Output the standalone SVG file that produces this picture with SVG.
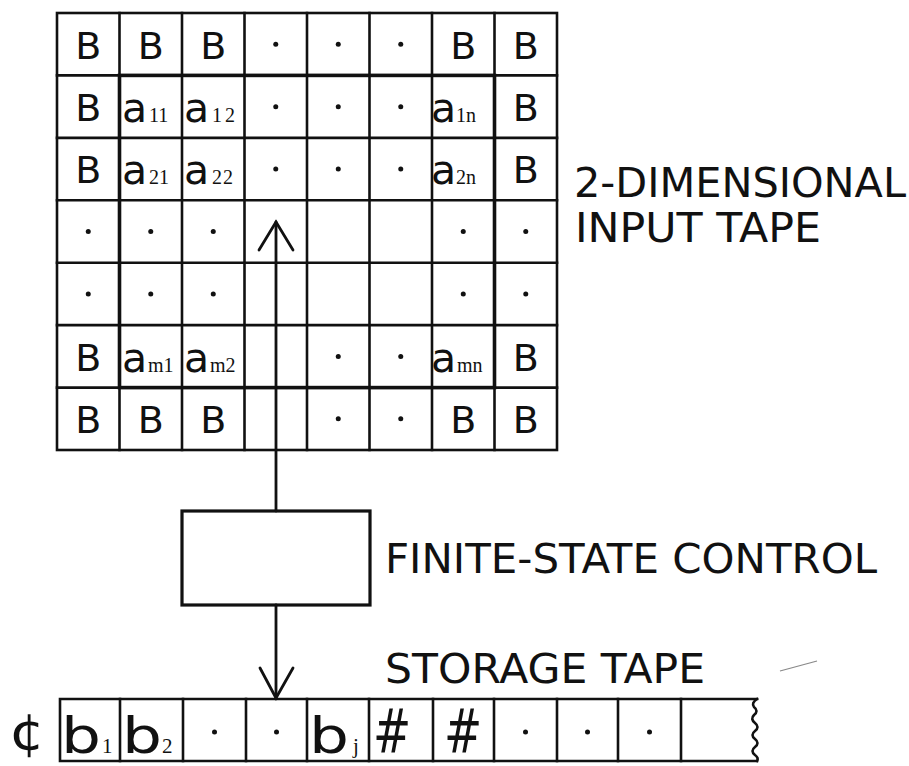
<svg xmlns="http://www.w3.org/2000/svg" width="909" height="766" viewBox="0 0 909 766">
<style>
  .ln { stroke: #111; stroke-width: 2.6; fill: none; stroke-linecap: square; }
  .thick { stroke: #111; stroke-width: 3.6; fill: none; }
  .box { stroke: #111; stroke-width: 3.2; fill: none; }
  .B { font-family: "DejaVu Sans", sans-serif; font-size: 38px; fill: #111; text-anchor: middle; }
  .a { font-family: "DejaVu Sans", sans-serif; font-size: 41px; fill: #111; }
  .sub { font-family: "Liberation Serif", serif; font-size: 20px; fill: #111; }
  .b { font-family: "DejaVu Sans", sans-serif; font-size: 50px; fill: #111; }
  .bsub { font-family: "Liberation Serif", serif; font-size: 21px; fill: #111; }
  .hash { font-family: "DejaVu Sans", sans-serif; font-size: 48px; fill: #111; text-anchor: middle; }
  .lbl { font-family: "DejaVu Sans", sans-serif; font-size: 40px; fill: #111; }
  .dot { fill: #111; }
  .conn { stroke: #111; stroke-width: 2.8; fill: none; stroke-linecap: round; stroke-linejoin: miter; }
</style>
<rect width="909" height="766" fill="#fff"/>

<g id="input-tape">
  <rect class="ln" x="57" y="13" width="500" height="437"/>
  <g class="ln">
    <line x1="119.5" y1="13" x2="119.5" y2="450"/>
    <line x1="182" y1="13" x2="182" y2="450"/>
    <line x1="244.5" y1="13" x2="244.5" y2="450"/>
    <line x1="307" y1="13" x2="307" y2="450"/>
    <line x1="369.5" y1="13" x2="369.5" y2="450"/>
    <line x1="432" y1="13" x2="432" y2="450"/>
    <line x1="494.5" y1="13" x2="494.5" y2="450"/>
    <line x1="57" y1="75.4" x2="557" y2="75.4"/>
    <line x1="57" y1="137.9" x2="557" y2="137.9"/>
    <line x1="57" y1="200.3" x2="557" y2="200.3"/>
    <line x1="57" y1="262.7" x2="557" y2="262.7"/>
    <line x1="57" y1="325.1" x2="557" y2="325.1"/>
    <line x1="57" y1="387.6" x2="557" y2="387.6"/>
  </g>
  <rect class="thick" x="119.5" y="75.4" width="375" height="312.2"/>

  <!-- row 1 -->
  <text class="B" x="88.25" y="59">B</text>
  <text class="B" x="150.75" y="59">B</text>
  <text class="B" x="213.25" y="59">B</text>
  <circle class="dot" cx="275.75" cy="44.2" r="2.5"/>
  <circle class="dot" cx="338.25" cy="44.2" r="2.5"/>
  <circle class="dot" cx="400.75" cy="44.2" r="2.5"/>
  <text class="B" x="463.25" y="59">B</text>
  <text class="B" x="525.75" y="59">B</text>

  <!-- row 2 -->
  <text class="B" x="88.25" y="121">B</text>
  <text class="a" x="122" y="122">a</text><text class="sub" x="149" y="122">11</text>
  <text class="a" x="184" y="122">a</text><text class="sub" x="212" y="122" letter-spacing="3">12</text>
  <circle class="dot" cx="275.75" cy="106.7" r="2.5"/>
  <circle class="dot" cx="338.25" cy="106.7" r="2.5"/>
  <circle class="dot" cx="400.75" cy="106.7" r="2.5"/>
  <text class="a" x="431" y="122">a</text><text class="sub" x="456" y="122">1n</text>
  <text class="B" x="525.75" y="121">B</text>

  <!-- row 3 -->
  <text class="B" x="88.25" y="183">B</text>
  <text class="a" x="122" y="184">a</text><text class="sub" x="149" y="184">21</text>
  <text class="a" x="184" y="184">a</text><text class="sub" x="212" y="184" letter-spacing="1">22</text>
  <circle class="dot" cx="275.75" cy="169.1" r="2.5"/>
  <circle class="dot" cx="338.25" cy="169.1" r="2.5"/>
  <circle class="dot" cx="400.75" cy="169.1" r="2.5"/>
  <text class="a" x="431" y="184">a</text><text class="sub" x="456" y="184">2n</text>
  <text class="B" x="525.75" y="183">B</text>

  <!-- row 4 -->
  <circle class="dot" cx="88.25" cy="231.5" r="2.5"/>
  <circle class="dot" cx="150.75" cy="231.5" r="2.5"/>
  <circle class="dot" cx="213.25" cy="231.5" r="2.5"/>
  <circle class="dot" cx="463.25" cy="231.5" r="2.5"/>
  <circle class="dot" cx="525.75" cy="231.5" r="2.5"/>

  <!-- row 5 -->
  <circle class="dot" cx="88.25" cy="293.9" r="2.5"/>
  <circle class="dot" cx="150.75" cy="293.9" r="2.5"/>
  <circle class="dot" cx="213.25" cy="293.9" r="2.5"/>
  <circle class="dot" cx="463.25" cy="293.9" r="2.5"/>
  <circle class="dot" cx="525.75" cy="293.9" r="2.5"/>

  <!-- row 6 -->
  <text class="B" x="88.25" y="371">B</text>
  <text class="a" x="122" y="372">a</text><text class="sub" x="148" y="372">m1</text>
  <text class="a" x="184" y="372">a</text><text class="sub" x="210" y="372">m2</text>
  <circle class="dot" cx="338.25" cy="356.4" r="2.5"/>
  <circle class="dot" cx="400.75" cy="356.4" r="2.5"/>
  <text class="a" x="431" y="372">a</text><text class="sub" x="457" y="372">mn</text>
  <text class="B" x="525.75" y="371">B</text>

  <!-- row 7 -->
  <text class="B" x="88.25" y="433">B</text>
  <text class="B" x="150.75" y="433">B</text>
  <text class="B" x="213.25" y="433">B</text>
  <circle class="dot" cx="338.25" cy="418.8" r="2.5"/>
  <circle class="dot" cx="400.75" cy="418.8" r="2.5"/>
  <text class="B" x="463.25" y="433">B</text>
  <text class="B" x="525.75" y="433">B</text>
</g>

<g id="input-tape-label">
  <text class="lbl" x="574" y="197" textLength="332" lengthAdjust="spacingAndGlyphs">2-DIMENSIONAL</text>
  <text class="lbl" x="575" y="242" textLength="246" lengthAdjust="spacingAndGlyphs">INPUT TAPE</text>
</g>

<g id="finite-state-control">
  <rect class="box" x="182" y="511" width="188" height="94"/>
  <text class="lbl" x="385" y="573" textLength="492" lengthAdjust="spacingAndGlyphs">FINITE-STATE CONTROL</text>
</g>

<g id="storage-tape">
  <text class="b" x="9" y="749" textLength="36" lengthAdjust="spacingAndGlyphs" font-size="58">¢</text>
  <path class="ln" d="M757 699 L60 699 L60 761 L757 761"/>
  <path class="ln" d="M757 699 Q751 703 754 707 Q759 711 754 715 Q750 719 755 723 Q760 727 755 731 Q750 735 755 739 Q760 743 755 747 Q750 751 755 755 Q759 758 757 761"/>
  <g class="ln">
    <line x1="120" y1="699" x2="120" y2="761"/>
    <line x1="183" y1="699" x2="183" y2="761"/>
    <line x1="246" y1="699" x2="246" y2="761"/>
    <line x1="307" y1="699" x2="307" y2="761"/>
    <line x1="369" y1="699" x2="369" y2="761"/>
    <line x1="433" y1="699" x2="433" y2="761"/>
    <line x1="494" y1="699" x2="494" y2="761"/>
    <line x1="557" y1="699" x2="557" y2="761"/>
    <line x1="618" y1="699" x2="618" y2="761"/>
    <line x1="681" y1="699" x2="681" y2="761"/>
  </g>
  <text class="b" x="61" y="753" textLength="40" lengthAdjust="spacingAndGlyphs">b</text><text class="bsub" x="102" y="753">1</text>
  <text class="b" x="122" y="753" textLength="40" lengthAdjust="spacingAndGlyphs">b</text><text class="bsub" x="162" y="753">2</text>
  <circle class="dot" cx="214.5" cy="732" r="2.5"/>
  <circle class="dot" cx="276.5" cy="732" r="2.5"/>
  <text class="b" x="309" y="753" textLength="40" lengthAdjust="spacingAndGlyphs">b</text><text class="bsub" x="353" y="753">j</text>
  <text class="hash" transform="translate(392 752) scale(0.95 1.25)">#</text>
  <text class="hash" transform="translate(463 752) scale(0.95 1.25)">#</text>
  <circle class="dot" cx="525.5" cy="732" r="2.5"/>
  <circle class="dot" cx="587.5" cy="732" r="2.5"/>
  <circle class="dot" cx="649.5" cy="732" r="2.5"/>
  <text class="lbl" x="385" y="683" textLength="320" lengthAdjust="spacingAndGlyphs">STORAGE TAPE</text>
</g>

<g id="connectors">
  <line class="conn" x1="276" y1="222" x2="276" y2="511"/>
  <polyline class="conn" points="259,250 276,222 293,250"/>
  <line class="conn" x1="276" y1="605" x2="276" y2="698"/>
  <polyline class="conn" points="260,668 276,698 293,668"/>
</g>

<line x1="780" y1="671" x2="817" y2="661" stroke="#888" stroke-width="1.2"/>
</svg>
